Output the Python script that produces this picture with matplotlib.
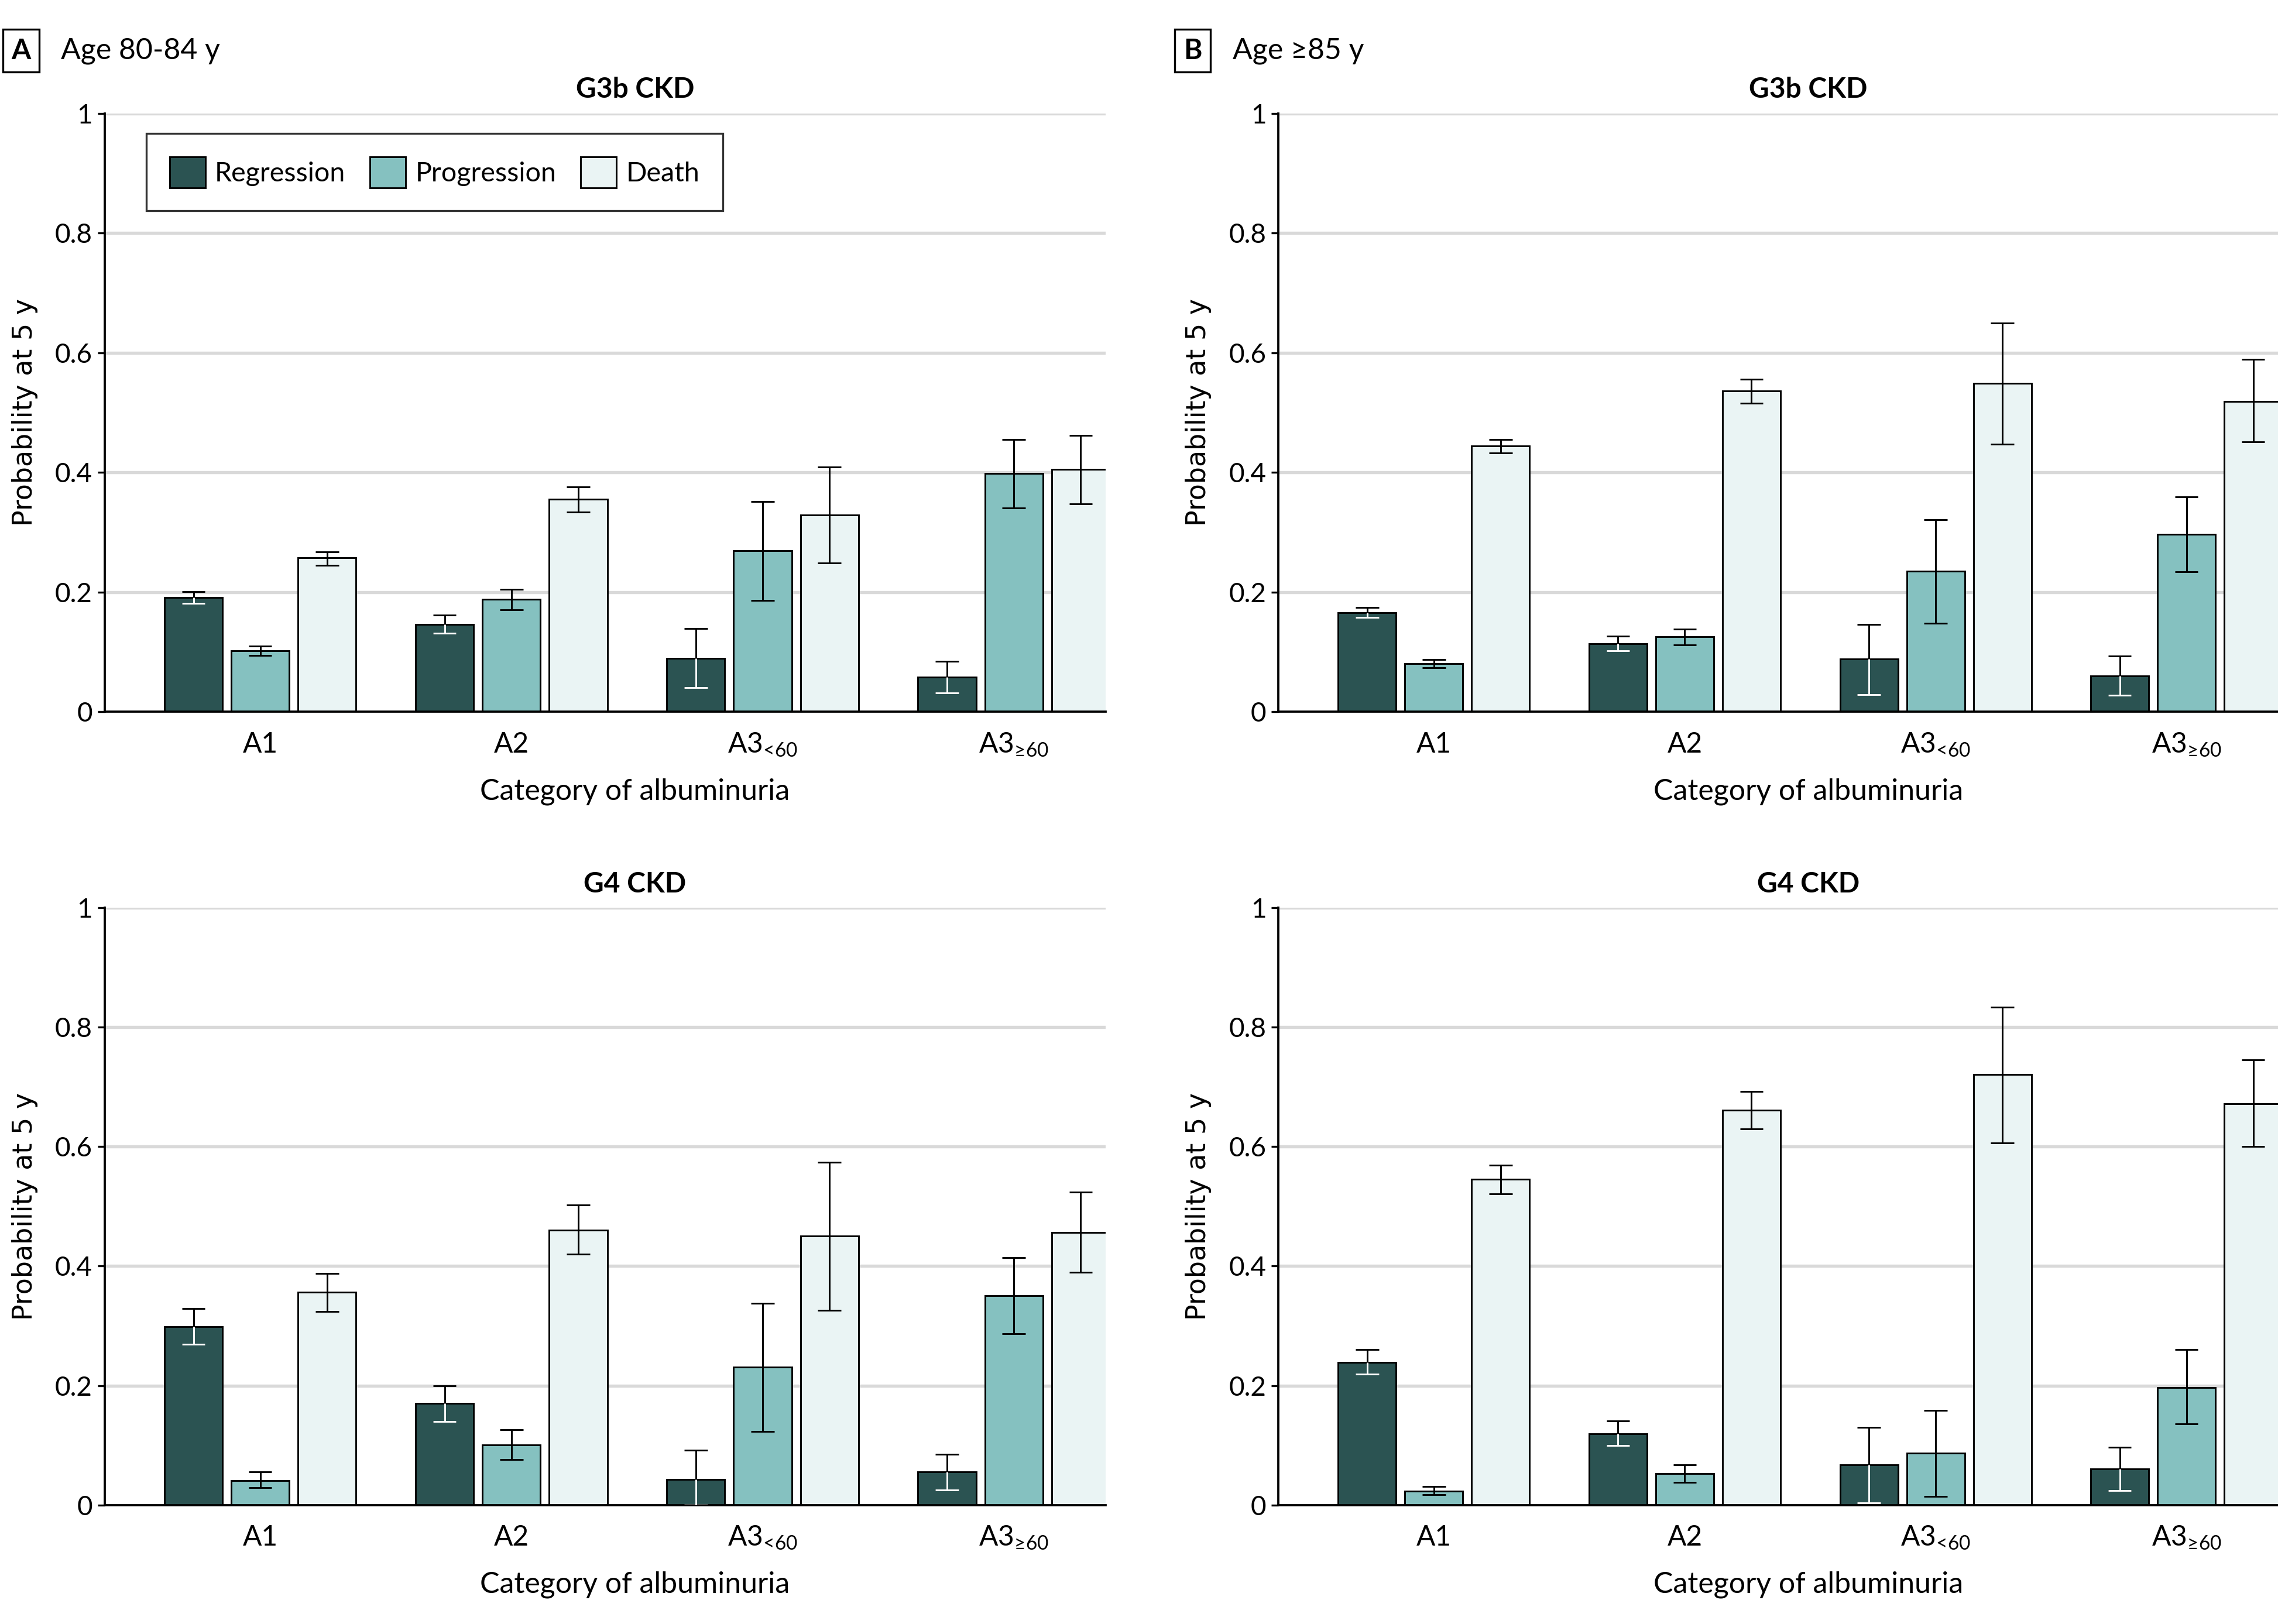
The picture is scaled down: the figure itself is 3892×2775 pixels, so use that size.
import numpy as np
import matplotlib
matplotlib.use("Agg")
import matplotlib.pyplot as plt
from matplotlib.patches import Patch

# Data: point estimate, lower CI, upper CI
categories = [r"A1", r"A2", r"A3$_{\text{<60}}$", r"A3$_{\text{≥60}}$"]
series = ["Regression", "Progression", "Death"]

# Age 80-84 y, G3b CKD
a_g3b_reg = [0.191, 0.146, 0.089, 0.058]
a_g3b_reg_lo = [0.181, 0.131, 0.040, 0.032]
a_g3b_reg_hi = [0.201, 0.162, 0.139, 0.084]
a_g3b_prog = [0.102, 0.188, 0.269, 0.398]
a_g3b_prog_lo = [0.094, 0.170, 0.186, 0.341]
a_g3b_prog_hi = [0.110, 0.205, 0.351, 0.455]
a_g3b_death = [0.257, 0.355, 0.329, 0.405]
a_g3b_death_lo = [0.245, 0.334, 0.249, 0.347]
a_g3b_death_hi = [0.267, 0.376, 0.409, 0.462]

# Age >=85 y, G3b CKD
b_g3b_reg = [0.166, 0.114, 0.088, 0.060]
b_g3b_reg_lo = [0.158, 0.102, 0.029, 0.028]
b_g3b_reg_hi = [0.174, 0.126, 0.146, 0.093]
b_g3b_prog = [0.080, 0.125, 0.235, 0.297]
b_g3b_prog_lo = [0.074, 0.112, 0.148, 0.234]
b_g3b_prog_hi = [0.087, 0.138, 0.321, 0.359]
b_g3b_death = [0.444, 0.536, 0.549, 0.519]
b_g3b_death_lo = [0.433, 0.516, 0.447, 0.451]
b_g3b_death_hi = [0.455, 0.556, 0.650, 0.589]

# Age 80-84 y, G4 CKD
a_g4_reg = [0.299, 0.170, 0.043, 0.055]
a_g4_reg_lo = [0.269, 0.140, 0.000, 0.025]
a_g4_reg_hi = [0.329, 0.200, 0.092, 0.085]
a_g4_prog = [0.041, 0.101, 0.231, 0.350]
a_g4_prog_lo = [0.029, 0.076, 0.123, 0.287]
a_g4_prog_hi = [0.055, 0.126, 0.338, 0.414]
a_g4_death = [0.356, 0.460, 0.450, 0.456]
a_g4_death_lo = [0.324, 0.420, 0.326, 0.390]
a_g4_death_hi = [0.388, 0.502, 0.574, 0.524]

# Age >=85 y, G4 CKD
b_g4_reg = [0.239, 0.119, 0.067, 0.060]
b_g4_reg_lo = [0.219, 0.100, 0.004, 0.024]
b_g4_reg_hi = [0.260, 0.141, 0.130, 0.097]
b_g4_prog = [0.023, 0.053, 0.087, 0.197]
b_g4_prog_lo = [0.017, 0.038, 0.014, 0.136]
b_g4_prog_hi = [0.031, 0.067, 0.158, 0.260]
b_g4_death = [0.545, 0.661, 0.721, 0.672]
b_g4_death_lo = [0.521, 0.630, 0.606, 0.600]
b_g4_death_hi = [0.569, 0.692, 0.834, 0.745]

colors = ["#2b5352", "#85c1c0", "#eaf4f4"]

FONT = "Lato"
plt.rcParams["font.family"] = [FONT, "DejaVu Sans"]
plt.rcParams["mathtext.fontset"] = "custom"
plt.rcParams["mathtext.rm"] = FONT
plt.rcParams["mathtext.it"] = FONT

fig = plt.figure(figsize=(3892 / 300, 2775 / 300), dpi=300)

panels = [
    ("G3b CKD", (0.0459, 0.5617, 0.4394, 0.3685),
     [(a_g3b_reg, a_g3b_reg_lo, a_g3b_reg_hi),
      (a_g3b_prog, a_g3b_prog_lo, a_g3b_prog_hi),
      (a_g3b_death, a_g3b_death_lo, a_g3b_death_hi)], True),
    ("G3b CKD", (0.5612, 0.5617, 0.4388, 0.3685),
     [(b_g3b_reg, b_g3b_reg_lo, b_g3b_reg_hi),
      (b_g3b_prog, b_g3b_prog_lo, b_g3b_prog_hi),
      (b_g3b_death, b_g3b_death_lo, b_g3b_death_hi)], False),
    ("G4 CKD", (0.0459, 0.0733, 0.4394, 0.3677),
     [(a_g4_reg, a_g4_reg_lo, a_g4_reg_hi),
      (a_g4_prog, a_g4_prog_lo, a_g4_prog_hi),
      (a_g4_death, a_g4_death_lo, a_g4_death_hi)], False),
    ("G4 CKD", (0.5612, 0.0733, 0.4388, 0.3677),
     [(b_g4_reg, b_g4_reg_lo, b_g4_reg_hi),
      (b_g4_prog, b_g4_prog_lo, b_g4_prog_hi),
      (b_g4_death, b_g4_death_lo, b_g4_death_hi)], False),
]

x = np.arange(len(categories))
bar_w = 0.231
offset = 0.266
cap = 0.046

for title, pos, data, show_legend in panels:
    ax = fig.add_axes(pos)
    ax.set_xlim(-0.62, 3.365)
    ax.set_ylim(0, 1)
    ax.set_yticks([0, 0.2, 0.4, 0.6, 0.8, 1])
    ax.set_yticklabels(["0", "0.2", "0.4", "0.6", "0.8", "1"])
    for yy in [0.2, 0.4, 0.6, 0.8, 1.0]:
        ax.axhline(yy, color="#d9d9d9", lw=1.3, zorder=0)

    for i, (vals, lo, hi) in enumerate(data):
        xs = x + (i - 1) * offset
        ax.bar(xs, vals, width=bar_w, color=colors[i], edgecolor="black",
               linewidth=0.7, zorder=2)
        ax.vlines(xs, lo, hi, color="black", lw=0.7, zorder=3)
        ax.hlines(hi, xs - cap, xs + cap, color="black", lw=0.7, zorder=3)
        ax.hlines(lo, xs - cap, xs + cap, color="black", lw=0.7, zorder=3)
        if i == 0:
            # part of the interval that sits inside the dark bar is drawn white
            ax.vlines(xs, lo, vals, color="white", lw=0.7, zorder=4)
            ax.hlines(lo, xs - cap, xs + cap, color="white", lw=0.7, zorder=4)

    ax.set_xticks(x)
    ax.set_xticklabels(categories)
    ax.tick_params(axis="x", length=0, labelsize=11.5, pad=8)
    ax.tick_params(axis="y", length=3, width=0.8, labelsize=11, pad=2)
    for s in ["top", "right"]:
        ax.spines[s].set_visible(False)
    ax.spines["left"].set_linewidth(0.9)
    ax.spines["bottom"].set_linewidth(0.9)
    ax.set_ylabel("Probability at 5 y", family="DejaVu Sans", fontsize=11,
                  labelpad=7)
    ax.set_xlabel("Category of albuminuria", fontsize=12, labelpad=8, x=0.53)
    ax.text(0.53, 1.018, title, transform=ax.transAxes, ha="center",
            va="bottom", fontsize=11.5, fontweight="bold")

    if show_legend:
        handles = [Patch(facecolor=c, edgecolor="black", linewidth=0.7)
                   for c in colors]
        leg = ax.legend(handles, series, ncol=3, loc="upper left",
                        bbox_to_anchor=(0.042, 0.966), fontsize=11.2,
                        frameon=True, fancybox=False, edgecolor="black",
                        handlelength=1.3, handleheight=1.35, handletextpad=0.35,
                        columnspacing=0.9, borderpad=0.85, borderaxespad=0)
        leg.get_frame().set_linewidth(0.8)

# panel labels
for lx, letter, label in [(0.0093, "A", "Age 80-84 y"),
                          (0.5235, "B", "Age ≥85 y")]:
    fig.text(lx, 0.9687, letter, fontsize=11.5, fontweight="bold", ha="center",
             va="center",
             bbox=dict(boxstyle="square,pad=0.3", facecolor="white",
                       edgecolor="black", linewidth=0.8))
    fig.text(lx + 0.0175, 0.9687, label, fontsize=12, ha="left", va="center")

fig.savefig("out.png", dpi=300)
